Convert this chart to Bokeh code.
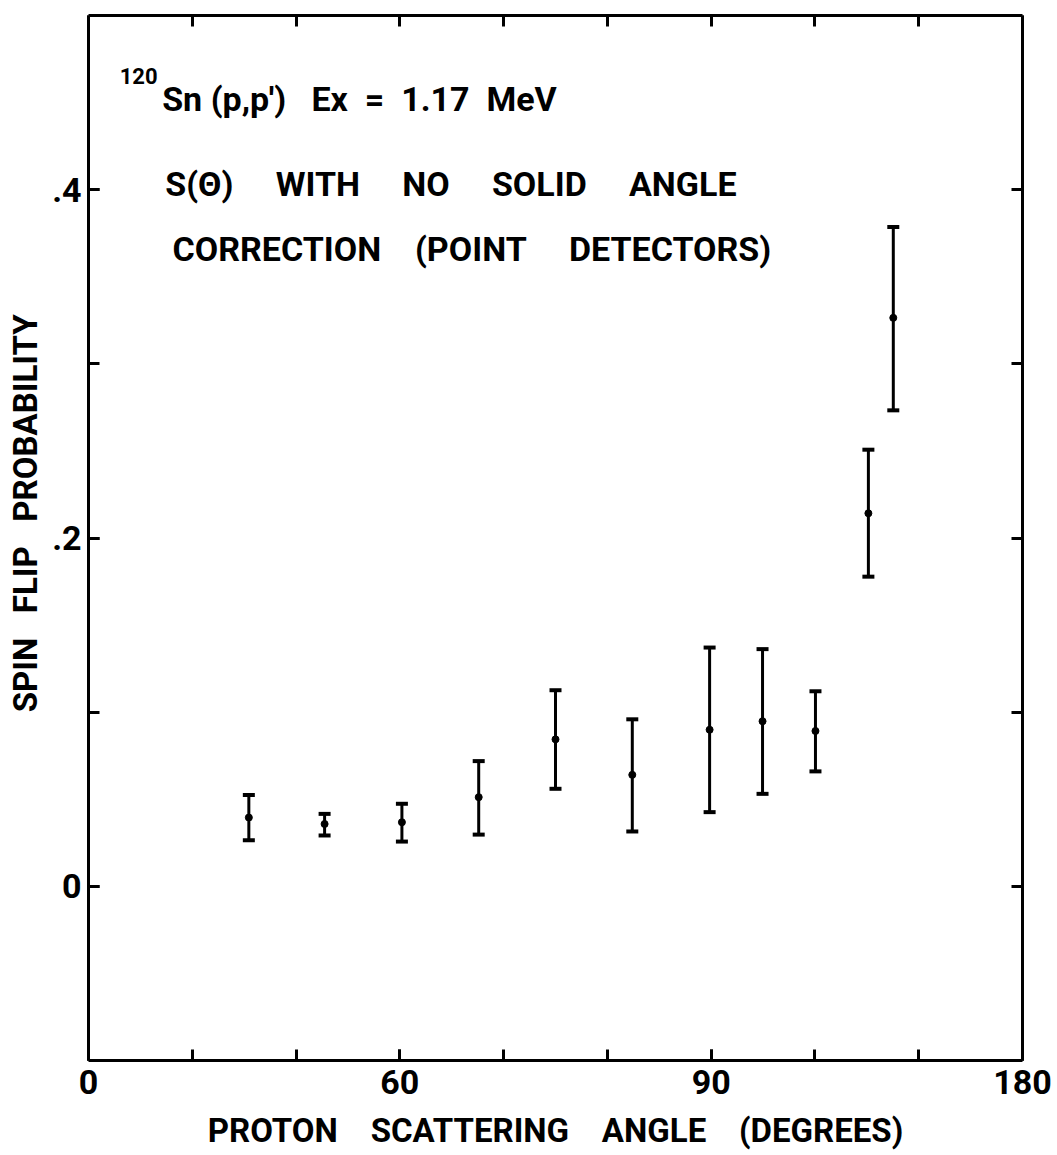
from bokeh.plotting import figure
from bokeh.models import Range1d, LinearAxis, FixedTicker, Whisker, ColumnDataSource, Label, TeeHead
from bokeh.embed import file_html
from bokeh.resources import INLINE

# Spin-flip probability of 120Sn(p,p') to the 1.17 MeV state
angle = [30.9, 45.5, 60.4, 75.2, 90.0, 104.8, 119.7, 129.9, 140.1, 150.3, 155.1]
spin_flip = [0.0395, 0.0358, 0.0368, 0.0512, 0.0844, 0.0640, 0.0899, 0.0948, 0.0892, 0.2142, 0.3264]
err_low = [0.0265, 0.0292, 0.0257, 0.0297, 0.0560, 0.0315, 0.0426, 0.0531, 0.0660, 0.1778, 0.2733]
err_high = [0.0525, 0.0416, 0.0474, 0.0719, 0.1126, 0.0959, 0.1371, 0.1362, 0.1120, 0.2507, 0.3786]

x_major = [0, 60, 120, 180]
x_major_labels = ["0", "60", "90", "180"]
x_all_ticks = [0, 20, 40, 60, 80, 100, 120, 140, 160, 180]
y_major = [0.0, 0.2, 0.4]
y_major_labels = ["0", ".2", ".4"]
y_all_ticks = [0.0, 0.1, 0.2, 0.3, 0.4]

FONT = "Roboto"


def gap(n):
    # wide lettering gaps that SVG will not collapse
    return "\u00a0" * n


p = figure(width=1057, height=1155, output_backend="svg", toolbar_location=None,
           x_range=Range1d(0, 180), y_range=Range1d(-0.1, 0.5),
           x_axis_type=None, y_axis_type=None,
           min_border_left=88, min_border_right=35, min_border_top=15, min_border_bottom=95)
p.grid.visible = False
p.outline_line_color = None
p.background_fill_color = "white"
p.border_fill_color = "white"


def style_axis(ax):
    ax.axis_line_width = 3
    ax.axis_line_color = "black"
    for kind in ("major", "minor"):
        setattr(ax, f"{kind}_tick_in", 11)
        setattr(ax, f"{kind}_tick_out", 0)
        setattr(ax, f"{kind}_tick_line_width", 3)
        setattr(ax, f"{kind}_tick_line_color", "black")
    ax.major_label_text_font = FONT
    ax.major_label_text_font_style = "bold"
    ax.major_label_text_color = "black"
    ax.major_label_text_font_size = "34px"
    ax.axis_label_text_font = FONT
    ax.axis_label_text_font_style = "bold"
    ax.axis_label_text_color = "black"
    ax.axis_label_text_font_size = "33px"


# labelled axes: bottom and left
bottom = LinearAxis(ticker=FixedTicker(ticks=x_major, minor_ticks=x_all_ticks),
                    axis_label=f"PROTON{gap(4)}SCATTERING{gap(4)}ANGLE{gap(4)}(DEGREES)")
bottom.major_label_overrides = {v: s for v, s in zip(x_major, x_major_labels)}
style_axis(bottom)
bottom.major_label_standoff = 9
bottom.axis_label_standoff = 14
p.add_layout(bottom, "below")

left = LinearAxis(ticker=FixedTicker(ticks=y_major, minor_ticks=y_all_ticks),
                  axis_label=f"{gap(6)}SPIN{gap(3)}FLIP{gap(3)}PROBABILITY")
left.major_label_overrides = {v: s for v, s in zip(y_major, y_major_labels)}
style_axis(left)
left.major_label_standoff = 7
left.axis_label_standoff = 4
p.add_layout(left, "left")

# tick-only axes closing the box: top and right
top = LinearAxis(ticker=FixedTicker(ticks=[], minor_ticks=x_all_ticks))
style_axis(top)
p.add_layout(top, "above")

right = LinearAxis(ticker=FixedTicker(ticks=[], minor_ticks=y_all_ticks))
style_axis(right)
p.add_layout(right, "right")

src = ColumnDataSource(dict(angle=angle, s=spin_flip, lo=err_low, hi=err_high))
p.add_layout(Whisker(source=src, base="angle", lower="lo", upper="hi",
                     line_width=3, line_color="black",
                     upper_head=TeeHead(size=12, line_width=4, line_color="black"),
                     lower_head=TeeHead(size=12, line_width=4, line_color="black")))
p.scatter("angle", "s", source=src, size=7, color="black")

# Reaction and method notes
p.add_layout(Label(x=6.0, y=0.465, text="120", text_font=FONT, text_font_style="bold",
                   text_font_size="22px", text_baseline="middle", text_color="black"))
notes = [(f"Sn (p,p'){gap(3)}Ex{gap(2)}={gap(2)}1.17{gap(2)}MeV", 14.2, 0.452),
         (f"S(Θ){gap(5)}WITH{gap(5)}NO{gap(5)}SOLID{gap(5)}ANGLE", 14.8, 0.403),
         (f"CORRECTION{gap(4)}(POINT{gap(5)}DETECTORS)", 16.2, 0.366)]
for txt, xx, yy in notes:
    p.add_layout(Label(x=xx, y=yy, text=txt, text_font=FONT, text_font_style="bold",
                       text_font_size="34px", text_baseline="middle", text_color="black"))

open("out.html", "w").write(file_html(p, INLINE))
